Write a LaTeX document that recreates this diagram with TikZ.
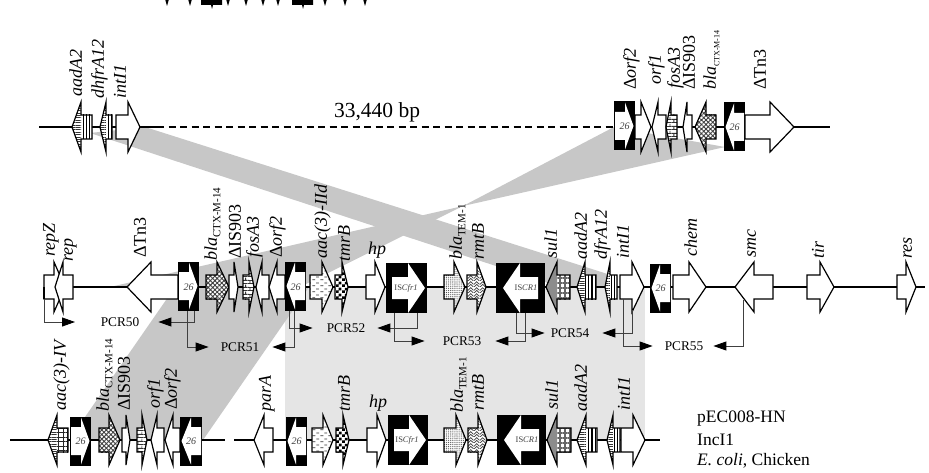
\documentclass[tikz,border=0pt]{standalone}
\usepackage{fontspec}
\setmainfont{Liberation Serif}
\usetikzlibrary{patterns,patterns.meta,arrows.meta}
\pgfdeclarepatternformonly{dashrows}{\pgfqpoint{0pt}{0pt}}{\pgfqpoint{8pt}{6pt}}{\pgfqpoint{8pt}{6pt}}{%
  \pgfsetlinewidth{.8pt}%
  \pgfpathmoveto{\pgfqpoint{0.5pt}{1.5pt}}\pgfpathlineto{\pgfqpoint{3.5pt}{1.5pt}}%
  \pgfpathmoveto{\pgfqpoint{4.5pt}{4.5pt}}\pgfpathlineto{\pgfqpoint{7.5pt}{4.5pt}}%
  \pgfusepath{stroke}}
\pgfdeclarepatternformonly{herring}{\pgfqpoint{0pt}{0pt}}{\pgfqpoint{6pt}{6pt}}{\pgfqpoint{6pt}{6pt}}{%
  \pgfsetlinewidth{.8pt}%
  \pgfpathmoveto{\pgfqpoint{0pt}{0pt}}\pgfpathlineto{\pgfqpoint{3pt}{3pt}}\pgfpathlineto{\pgfqpoint{6pt}{0pt}}%
  \pgfpathmoveto{\pgfqpoint{0pt}{3pt}}\pgfpathlineto{\pgfqpoint{3pt}{6pt}}\pgfpathlineto{\pgfqpoint{6pt}{3pt}}%
  \pgfusepath{stroke}}
\pgfdeclarepatternformonly{brickrow}{\pgfqpoint{0pt}{0pt}}{\pgfqpoint{8pt}{7pt}}{\pgfqpoint{8pt}{7pt}}{%
  \pgfsetlinewidth{.9pt}%
  \pgfpathmoveto{\pgfqpoint{0pt}{0.5pt}}\pgfpathlineto{\pgfqpoint{8pt}{0.5pt}}%
  \pgfpathmoveto{\pgfqpoint{0pt}{4pt}}\pgfpathlineto{\pgfqpoint{8pt}{4pt}}%
  \pgfpathmoveto{\pgfqpoint{2pt}{0.5pt}}\pgfpathlineto{\pgfqpoint{2pt}{4pt}}%
  \pgfpathmoveto{\pgfqpoint{6pt}{4pt}}\pgfpathlineto{\pgfqpoint{6pt}{7pt}}%
  \pgfusepath{stroke}}
\pgfdeclarepatternformonly{checks}{\pgfqpoint{0pt}{0pt}}{\pgfqpoint{6pt}{6pt}}{\pgfqpoint{6pt}{6pt}}{%
  \pgfpathrectangle{\pgfqpoint{0pt}{0pt}}{\pgfqpoint{3pt}{3pt}}%
  \pgfpathrectangle{\pgfqpoint{3pt}{3pt}}{\pgfqpoint{3pt}{3pt}}%
  \pgfusepath{fill}}
\tikzset{
  x=1pt,y=-1pt,
  band/.style={fill=black!22,draw=none},
  bandlight/.style={fill=black!10,draw=none},
  axisline/.style={line width=1.4pt,black},
  geneline/.style={line width=1.2pt,black,line join=miter,miter limit=12},
  plainf/.style={},
  crossf/.style={pattern={Hatch[angle=45,distance=3.2pt,line width=.9pt]},pattern color=black!75},
  dotf/.style={pattern={Dots[distance=1.9pt,radius=.55pt]},pattern color=black!70},
  hlinef/.style={pattern={Lines[angle=0,distance=2.4pt,line width=.9pt]},pattern color=black!80},
  vlinef/.style={pattern={Lines[angle=90,distance=3.2pt,line width=1.2pt]},pattern color=black},
  brickf/.style={pattern=brickrow,pattern color=black!80},
  dashf/.style={pattern=dashrows,pattern color=black!80},
  checkf/.style={pattern=checks,pattern color=black},
  herringf/.style={pattern=herring,pattern color=black!75},
  gridf/.style={pattern={Hatch[angle=0,distance=5pt,line width=1.7pt]},pattern color=black!60},
  thingridf/.style={pattern={Hatch[angle=0,distance=4.5pt,line width=.6pt]},pattern color=black!85},
  greyf/.style={fill=black!45},
  genelab/.style={xshift=1.5pt,rotate=90,anchor=mid west,inner sep=0pt,font=\fontsize{18}{18}\selectfont\itshape},
  uplab/.style={xshift=1.5pt,rotate=90,anchor=mid west,inner sep=0pt,font=\fontsize{18}{18}\selectfont},
  flatlab/.style={inner sep=0pt,font=\fontsize{18}{18}\selectfont\itshape},
  pcrlab/.style={inner sep=0pt,font=\fontsize{13.3}{14}\selectfont},
  isnum/.style={inner sep=0pt,font=\fontsize{10}{10}\selectfont\itshape,black!75},
  isbig/.style={inner sep=0pt,font=\fontsize{8.5}{9}\selectfont,black!75},
  legendlab/.style={inner sep=0pt,anchor=west,font=\fontsize{17.5}{18}\selectfont},
  pcrline/.style={line width=.9pt,black!75,-{Triangle[length=13pt,width=9pt,fill=black,color=black]}},
}
% tail, head base, tip, axis y, body style, head style
\newcommand{\gene}[6]{%
  \fill[white] (#1,#4-12)--(#2,#4-12)--(#2,#4-25)--(#3,#4)--(#2,#4+25)--(#2,#4+12)--(#1,#4+12)--cycle;
  \path[#5] (#1,#4-12) rectangle (#2,#4+12);
  \path[#6] (#2,#4-25)--(#3,#4)--(#2,#4+25)--cycle;
  \draw[geneline] (#1,#4-12)--(#2,#4-12)--(#2,#4-25)--(#3,#4)--(#2,#4+25)--(#2,#4+12)--(#1,#4+12)--cycle;}
% left, right, axis y, +1 right / -1 left
\newcommand{\isbox}[4]{%
  \fill[black] (#1,#3-24.5) rectangle (#2,#3+24.5);
  \ifnum#4>0
    \fill[white] (#1+1,#3-14)--(#1+11,#3-14)--(#1+11,#3-23.5)--(#2-1.5,#3)--(#1+11,#3+23.5)--(#1+11,#3+14)--(#1+1,#3+14)--cycle;
  \else
    \fill[white] (#2-1,#3-14)--(#2-11,#3-14)--(#2-11,#3-23.5)--(#1+1.5,#3)--(#2-11,#3+23.5)--(#2-11,#3+14)--(#2-1,#3+14)--cycle;
  \fi}
% left, right, axis y, tail, base, tip (large IS elements)
\newcommand{\isbigbox}[6]{%
  \fill[black] (#1,#3-25) rectangle (#2,#3+25);
  \fill[white] (#4,#3-11)--(#5,#3-11)--(#5,#3-25)--(#6,#3)--(#5,#3+25)--(#5,#3+11)--(#4,#3+11)--cycle;}
\newcommand{\blasub}[2][11]{\textit{bla}\raisebox{-3.5pt}{\upshape\fontsize{#1}{#1}\selectfont #2}}
\newcommand{\dd}{{\upshape Δ}}
\begin{document}
\begin{tikzpicture}
\useasboundingbox (0,0) rectangle (929,473);
\begin{scope}
\clip (0,0) rectangle (929,473);
% partial row at the top edge
\foreach \sx in {167,190,228,246,263,278,325,345,365}
  \fill[black] (\sx-2,-1)--(\sx+2,-1)--(\sx,6)--cycle;
\fill[black] (201,-1)--(222,-1)--(222,5)--(213,5)--(212,9)--(211,5)--(201,5)--cycle;
\fill[black] (292,-1)--(313,-1)--(313,5)--(304,5)--(303,9)--(302,5)--(292,5)--cycle;
\end{scope}
% grey homology bands
\fill[bandlight] (285,287) rectangle (645,440);
\fill[band] (145,127)--(90,133)--(560,287)--(617,287)--(617,277)--cycle;
\fill[band] (614,127)--(725,147)--(463,206)--cycle;
\fill[band] (463,206)--(110,287)--(300,287)--cycle;
\fill[band] (175,287)--(309,287)--(203,440)--(85,440)--(85,417)--cycle;
% backbone lines
\draw[axisline] (39,127)--(157,127);
\draw[axisline,dash pattern=on 7pt off 4.5pt] (157,127)--(614,127);
\draw[axisline] (614,127)--(830,127);
\draw[axisline] (44,287)--(925,287);
\draw[axisline] (10,440)--(225,440);
\draw[axisline] (234,440)--(660,440);
% row 1
\gene{92}{81}{72}{127}{vlinef}{hlinef}
\gene{112}{106}{100}{127}{vlinef}{hlinef}
\gene{116}{128}{140}{127}{plainf}{plainf}
\isbox{614}{635}{126}{1}
\gene{635}{641}{651}{127}{plainf}{plainf}
\gene{666}{658}{652}{127}{plainf}{plainf}
\gene{677}{671}{666}{127}{brickf}{brickf}
\gene{692}{687}{683}{127}{plainf}{plainf}
\gene{716}{706}{695}{127}{crossf}{crossf}
\isbox{724}{745}{127}{-1}
\gene{745}{770}{794}{127}{plainf}{plainf}
% row 2
\gene{44}{54}{65}{287}{plainf}{plainf}
\gene{73}{63}{55}{287}{plainf}{plainf}
\draw[geneline] (44,287)--(44,299);
\gene{178}{151}{127}{287}{plainf}{plainf}
\isbox{178}{199}{286}{1}
\gene{206}{217}{229}{287}{crossf}{crossf}
\gene{229}{234}{238}{287}{plainf}{plainf}
\gene{243}{249}{254}{287}{brickf}{brickf}
\gene{269}{262}{256}{287}{plainf}{plainf}
\gene{285}{277}{269}{287}{plainf}{plainf}
\isbox{285}{306}{286}{-1}
\gene{310}{322}{333}{287}{dashf}{dashf}
\gene{335}{342}{348}{287}{checkf}{checkf}
\gene{366}{375}{385}{287}{plainf}{plainf}
\isbigbox{386}{427}{288}{392}{408}{425}
\gene{444}{454}{465}{287}{dotf}{dotf}
\gene{467}{477}{486}{287}{herringf}{herringf}
\isbigbox{496}{545}{288}{538}{520}{503}
\gene{570}{557}{546}{287}{gridf}{greyf}
\gene{596}{585}{577}{287}{vlinef}{hlinef}
\gene{617}{610}{605}{287}{vlinef}{hlinef}
\gene{620}{632}{644}{287}{plainf}{plainf}
\isbox{650}{671}{288}{-1}
\gene{673}{689}{706}{287}{plainf}{plainf}
\gene{773}{754}{735}{287}{plainf}{plainf}
\gene{807}{820}{834}{287}{plainf}{plainf}
\gene{897}{906}{916}{287}{plainf}{plainf}
% row 3
\gene{68}{57}{48}{440}{thingridf}{hlinef}
\isbox{70}{91}{441}{1}
\gene{99}{109}{120}{440}{crossf}{crossf}
\gene{122}{126}{130}{440}{plainf}{plainf}
\gene{137}{142}{147}{440}{brickf}{brickf}
\gene{164}{157}{151}{440}{plainf}{plainf}
\gene{180}{173}{165}{440}{plainf}{plainf}
\isbox{180}{202}{441}{-1}
\gene{273}{264}{254}{440}{plainf}{plainf}
\isbox{286}{307}{441}{-1}
\gene{312}{323}{333}{440}{dashf}{dashf}
\gene{336}{343}{349}{440}{checkf}{checkf}
\gene{367}{377}{386}{440}{plainf}{plainf}
\isbigbox{388}{428}{440}{394}{409}{426}
\gene{444}{456}{466}{440}{dotf}{dotf}
\gene{468}{478}{487}{440}{herringf}{herringf}
\isbigbox{497}{546}{440}{539}{521}{504}
\gene{571}{557}{547}{440}{gridf}{greyf}
\gene{597}{586}{577}{440}{vlinef}{hlinef}
\gene{620}{613}{607}{440}{vlinef}{hlinef}
\gene{621}{633}{645}{440}{plainf}{plainf}
% insertion sequence numbers
\node[isnum] (n1) at (624.5,126) {26};
\node[isnum] (n2) at (734.5,127) {26};
\node[isnum] (n3) at (188.5,287) {26};
\node[isnum] (n4) at (295.5,287) {26};
\node[isnum] (n5) at (660.5,288) {26};
\node[isnum] (n6) at (80.5,441) {26};
\node[isnum] (n7) at (191,441) {26};
\node[isnum] (n8) at (296.5,441) {26};
\node[isbig] (cfrA) at (406,288) {IS\textit{Cfr1}};
\node[isbig] (crA) at (526,288) {IS\textit{CR1}};
\node[isbig] (cfrB) at (407,440) {IS\textit{Cfr1}};
\node[isbig] (crB) at (527,440) {IS\textit{CR1}};
% row 1 labels
\node[genelab] (a1) at (78,97) {aadA2};
\node[genelab] (a2) at (100,99) {dhfrA12};
\node[genelab] (a3) at (122,99) {intI1};
\node[inner sep=0pt,font=\fontsize{21.5}{22}\selectfont] (bp) at (377,112) {33,440 bp};
\node[genelab] (a4) at (632,90) {\dd orf2};
\node[genelab] (a5) at (657,85) {orf1};
\node[genelab] (a6) at (676,89) {fosA3};
\node[uplab] (a7) at (691,90) {ΔIS903};
\node[genelab] (a8) at (712,90) {\blasub[8]{CTX-M-14}};
\node[uplab] (a9) at (762,90) {ΔTn3};
% row 2 labels
\node[genelab] (b1) at (51,257) {repZ};
\node[genelab] (b2) at (69,262) {rep};
\node[uplab] (b3) at (142,258) {ΔTn3};
\node[genelab] (b4) at (213,261) {\blasub{CTX-M-14}};
\node[uplab] (b5) at (237,259) {ΔIS903};
\node[genelab] (b6) at (255,258) {fosA3};
\node[genelab] (b7) at (278,258) {\dd orf2};
\node[genelab] (b8) at (323,259) {aac(3)-IId};
\node[genelab] (b9) at (346,262) {tmrB};
\node[flatlab] (b10) at (377,250) {hp};
\node[genelab] (b11) at (458,260) {\blasub{TEM-1}};
\node[genelab] (b12) at (480,260) {rmtB};
\node[genelab] (b13) at (553,259) {sul1};
\node[genelab] (b14) at (583,260) {aadA2};
\node[genelab] (b15) at (603,260) {dfrA12};
\node[genelab] (b16) at (625,259) {intI1};
\node[genelab] (b17) at (693,257) {chem};
\node[genelab] (b18) at (752,258) {smc};
\node[genelab] (b19) at (820,259) {tir};
\node[genelab] (b20) at (908,259) {res};
% row 3 labels
\node[genelab] (c1) at (62,411) {aac(3)-IV};
\node[genelab] (c2) at (105,412) {\blasub{CTX-M-14}};
\node[uplab] (c3) at (126,411) {ΔIS903};
\node[genelab] (c4) at (156,409) {orf1};
\node[genelab] (c5) at (173,410) {\dd orf2};
\node[genelab] (c6) at (267,412) {parA};
\node[genelab] (c7) at (346,412) {tmrB};
\node[flatlab] (c8) at (378,403) {hp};
\node[genelab] (c9) at (459,413) {\blasub{TEM-1}};
\node[genelab] (c10) at (480,411) {rmtB};
\node[genelab] (c11) at (554,410) {sul1};
\node[genelab] (c12) at (583,412) {aadA2};
\node[genelab] (c13) at (626,411) {intI1};
% PCR labels
\node[pcrlab] (pcr50) at (120,322) {PCR50};
\node[pcrlab] (pcr51) at (240,347) {PCR51};
\node[pcrlab] (pcr52) at (346,328) {PCR52};
\node[pcrlab] (pcr53) at (462,341) {PCR53};
\node[pcrlab] (pcr54) at (570,333) {PCR54};
\node[pcrlab] (pcr55) at (684,346) {PCR55};
\coordinate (repmark) at (75,322);
% PCR primer start points
\coordinate (srepz) at (44,299);
\coordinate (s50) at (194,311);
\coordinate (s51a) at (187,311);
\coordinate (s51b) at (294,311);
\coordinate (s52a) at (289,311);
\coordinate (s52b) at (417,313);
\coordinate (s53a) at (394,313);
\coordinate (s53b) at (525,313);
\coordinate (s54a) at (516,313);
\coordinate (s54b) at (632,310);
\coordinate (s55a) at (623,299);
\coordinate (s55b) at (743,300);
\draw[pcrline] (srepz) |- (repmark);
\draw[pcrline,shorten >=19pt] (s50) |- (pcr50.east);
\draw[pcrline,shorten >=12pt] (s51a) |- (pcr51.west);
\draw[pcrline,shorten >=13pt] (s51b) |- (pcr51.east);
\draw[pcrline,shorten >=14pt] (s52a) |- (pcr52.west);
\draw[pcrline,shorten >=12pt] (s52b) |- (pcr52.east);
\draw[pcrline,shorten >=18pt] (s53a) |- (pcr53.west);
\draw[pcrline,shorten >=14pt] (s53b) |- (pcr53.east);
\draw[pcrline,shorten >=6pt] (s54a) |- (pcr54.west);
\draw[pcrline,shorten >=13pt] (s54b) |- (pcr54.east);
\draw[pcrline,shorten >=12pt] (s55a) |- (pcr55.west);
\draw[pcrline,shorten >=10pt] (s55b) |- (pcr55.east);
% legend
\node[legendlab] (l1) at (697,419) {pEC008-HN};
\node[legendlab] (l2) at (697,440) {IncI1};
\node[legendlab] (l3) at (697,461) {\textit{E. coli}, Chicken};
\end{tikzpicture}
\end{document}
